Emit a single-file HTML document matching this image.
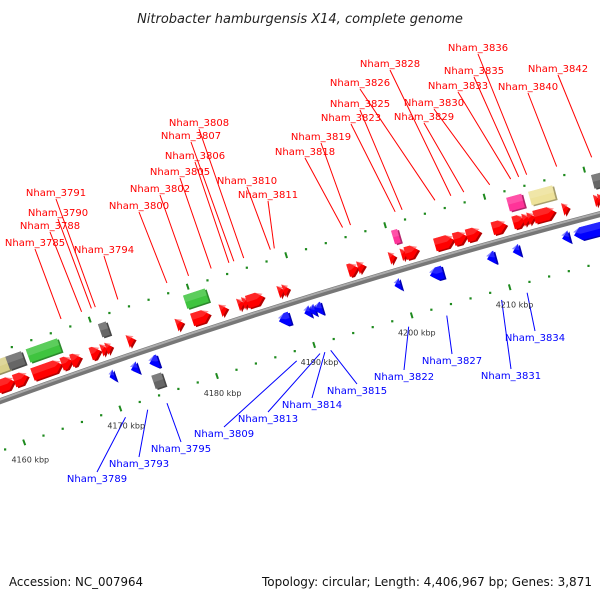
<!DOCTYPE html>
<html><head><meta charset="utf-8"><style>
html,body{margin:0;padding:0;background:#fff;}
svg{display:block;font-family:"DejaVu Sans","Liberation Sans",sans-serif;}
</style></head><body>
<svg id="map" width="600" height="600" viewBox="0 0 600 600" xmlns="http://www.w3.org/2000/svg">
<text x="300" y="23" text-anchor="middle" font-size="13" font-style="italic" fill="#222">Nitrobacter hamburgensis X14, complete genome</text>
<g id="leaders"></g>
<g id="ticks"></g>
<g id="backbone"></g>
<g id="genes"></g>
<g id="labels"></g>
<text x="9" y="586" font-size="12" fill="#111" textLength="134" lengthAdjust="spacingAndGlyphs">Accession: NC_007964</text>
<text x="592" y="586" font-size="12" fill="#111" text-anchor="end" textLength="330" lengthAdjust="spacingAndGlyphs">Topology: circular; Length: 4,406,967 bp; Genes: 3,871</text>
</svg>
<script>
// ---- data ----
const fwdStart=[4159.4,4161.1,4163,4166,4167,4169,4170.1,4170.6,4172.8,4177.8,4179.4,4182.3,4184.1,4184.6,4185,4188.2,4188.7,4195.3,4196.3,4199.5,4200.7,4201.1,4204.1,4206,4207.3,4209.9,4212,4213,4213.5,4214.1,4217,4220.2,4220.6,4221];
const fwdEnd=[4161.1,4162.5,4166,4167.1,4168,4170,4170.7,4171.2,4173.5,4178.5,4181.2,4183,4184.7,4185.2,4186.7,4188.8,4189.3,4196.3,4197,4200.1,4201.3,4202.4,4206,4207.3,4208.7,4211.3,4213.2,4213.7,4214.2,4216.2,4217.6,4220.7,4221.1,4221.6];
const revStart=[4170,4172.2,4174.1,4187.4,4190,4190.5,4191,4199.2,4202.8,4208.6,4211.2,4216.2,4217.4];
const revEnd=[4170.5,4172.9,4175,4188.5,4190.6,4191.1,4191.8,4199.8,4204.1,4209.4,4211.9,4216.9,4220.3];
const featStart=[4157,4161.1,4163.2,4170.6,4179.3,4200.4,4212,4214.2,4220.5,4173.9];
const featEnd=[4161.1,4162.7,4166.4,4171.4,4181.5,4201.0,4213.5,4216.6,4223,4174.9];
const featStrand=[1,1,1,1,1,1,1,1,1,-1];
const featColor=["#d8d08a","#666666","#3fc43f","#666666","#3fc43f","#ff3399","#ff3399","#eee29a","#666666","#666666"];
const tickLabels=["4160 kbp","4170 kbp","4180 kbp","4190 kbp","4200 kbp","4210 kbp"];
const tickKbp=[4160,4170,4180,4190,4200,4210];
const fwdNames=["Nham_3836","Nham_3828","Nham_3842","Nham_3826","Nham_3835","Nham_3833","Nham_3840","Nham_3825","Nham_3830","Nham_3823","Nham_3829","Nham_3808","Nham_3807","Nham_3819","Nham_3818","Nham_3806","Nham_3805","Nham_3810","Nham_3802","Nham_3811","Nham_3791","Nham_3800","Nham_3790","Nham_3788","Nham_3785","Nham_3794"];
const fwdLabelX=[478,390,558,360,474,458,528,360,434,351,424,199,191,321,305,195,180,247,160,268,56,139,58,50,35,104];
const fwdLabelY=[51,67,72,86,74,89,90,107,106,121,120,126,139,140,155,159,175,184,192,198,196,209,216,229,246,253];
const fwdTarget=[4214.5,4206.9,4221,4205.3,4213.7,4212.9,4217.5,4202,4210.8,4201.3,4208.2,4186,4185,4196.8,4196,4184.5,4182.7,4188.7,4180.4,4189.1,4170.9,4178.2,4170.5,4169.5,4167.4,4173.2];
const revNames=["Nham_3834","Nham_3822","Nham_3827","Nham_3831","Nham_3815","Nham_3814","Nham_3813","Nham_3809","Nham_3795","Nham_3793","Nham_3789"];
const revLabelX=[535,404,452,511,357,312,268,224,181,139,97];
const revLabelY=[341,380,364,379,394,408,422,437,452,467,482];
const revTarget=[4211.5,4199.4,4203.3,4208.9,4191.4,4190.8,4190.3,4187.9,4174.5,4172.5,4170.2];

// ---- geometry ----
const NS="http://www.w3.org/2000/svg";
const CX=2351, CY=6886;
const a1=Math.atan2(376-CY,217-CX), a2=Math.atan2(313-CY,411-CX);
const RLOW=Math.hypot(217-CX,376-CY);
const RB=RLOW+47, RUP=RLOW+94;
function ang(k){return a1+(k-4180)*(a2-a1)/20;}
function pt(k,r){const a=ang(k);return [CX+r*Math.cos(a),CY+r*Math.sin(a)];}
function mk(tag,attrs,parent){const e=document.createElementNS(NS,tag);for(const k in attrs)e.setAttribute(k,attrs[k]);parent.appendChild(e);return e;}
const kpp=(a2-a1)/20*RB;

// backbone
const gb=document.getElementById('backbone');
{const p0=pt(4150,RB),p1=pt(4230,RB);
const d=`M${p0[0]},${p0[1]} A${RB},${RB} 0 0 1 ${p1[0]},${p1[1]}`;
const e1=mk('path',{d:d,stroke:'#777',"stroke-width":6,fill:'none'},gb);


const e2=mk('path',{d:d,stroke:'#aaa',"stroke-width":2,fill:'none',transform:'translate(0,-1.5)'},gb);

}

// ticks
const gt=document.getElementById('ticks');
for(let k=4150;k<=4230;k+=2){
 for(const r of [RLOW,RUP]){
  if(k%10===0){const a=pt(k,r-3),b=pt(k,r+3);
   const t=mk('line',{x1:a[0],y1:a[1],x2:b[0],y2:b[1],stroke:'#1e8a1e',"stroke-width":2},gt);
   
   
  } else {const c=pt(k,r);
   const t=mk('rect',{x:c[0]-1,y:c[1]-1,width:2.2,height:2.2,fill:'#1e8a1e'},gt);
   
   }
 }
}
for(let i=0;i<tickKbp.length;i++){const c=pt(tickKbp[i],RLOW-18);
 const t=mk('text',{x:c[0],y:c[1]+3,"font-size":8,"text-anchor":"middle",fill:'#333'},gt);
 t.textContent=tickLabels[i];
 
 }

// genes
const gg=document.getElementById('genes');
function shade(c,f){const n=parseInt(c.slice(1),16);let r=(n>>16)&255,g=(n>>8)&255,b=n&255;
 const m=v=>Math.max(0,Math.min(255,Math.round(f>1?v+(255-v)*(f-1):v*f)));return `rgb(${m(r)},${m(g)},${m(b)})`;}
function arrowPts(s,e,v,h,dir,isBox){
 const len=(e-s)*kpp;const head=isBox?0:Math.min(7,len);
 const hk=head/kpp;const r=RB+v;
 let pts;
 if(dir>0){pts=[[s,r+h/2],[e-hk,r+h/2],[e,r],[e-hk,r-h/2],[s,r-h/2]];}
 else{pts=[[e,r+h/2],[s+hk,r+h/2],[s,r],[s+hk,r-h/2],[e,r-h/2]];}
 return pts.map(p=>pt(p[0],p[1]));
}
function drawGene(s,e,v,h,dir,color,isBox,name){
 const g=mk('g',{},gg);
 
 
 const P=arrowPts(s,e,v,h,dir,isBox);
 const str=P.map(p=>p[0].toFixed(1)+','+p[1].toFixed(1)).join(' ');
 const back=mk('polygon',{points:str,fill:shade(color,0.7),transform:'translate(2,1)'},g);
 
 
 const fr=mk('polygon',{points:str,fill:color},g);
 
 
 const T=arrowPts(s,e,v+h*0.25,h*0.5,dir,isBox);
 const tp=mk('polygon',{points:T.map(p=>p[0].toFixed(1)+','+p[1].toFixed(1)).join(' '),fill:shade(color,1.25),opacity:0.6},g);
 
 
}
for(let i=0;i<featStart.length;i++){drawGene(featStart[i],featEnd[i],featStrand[i]*33,14,1,featColor[i],true,'feature-box');}
for(let i=0;i<fwdStart.length;i++){drawGene(fwdStart[i],fwdEnd[i],14,13,1,'#ff0000',false,'forward-cds');}
for(let i=0;i<revStart.length;i++){drawGene(revStart[i],revEnd[i],-14,13,-1,'#0000ff',false,'reverse-cds');}

// labels
const gl=document.getElementById('labels'), gL=document.getElementById('leaders');
function label(name,x,y,k,strand,col){
 const end=pt(k,RB+strand*57);
 const sy=strand>0?y+3:y-10;
 const l=mk('line',{x1:x,y1:sy,x2:end[0],y2:end[1],stroke:col,"stroke-width":1},gL);
 
 
 const t=mk('text',{x:x,y:y,"font-size":10,"text-anchor":"middle",fill:col},gl);
 t.textContent=name;
 
 
}
for(let i=0;i<fwdNames.length;i++)label(fwdNames[i],fwdLabelX[i],fwdLabelY[i],fwdTarget[i],1,'#ff0000');
for(let i=0;i<revNames.length;i++)label(revNames[i],revLabelX[i],revLabelY[i],revTarget[i],-1,'#0000ff');
</script>
</body></html>
